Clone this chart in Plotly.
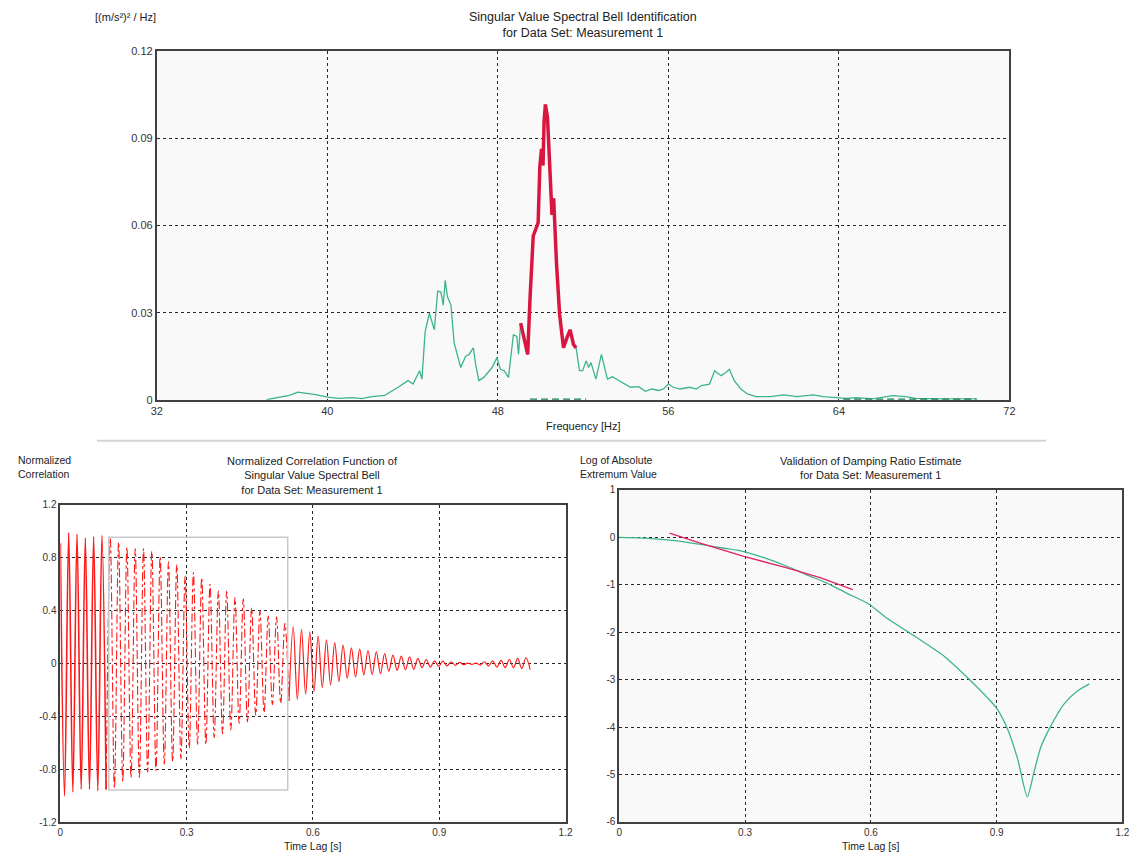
import plotly.graph_objects as go

W, H = 1142, 863

# ---------------- Spectral bell identification (top) ----------------
spec_freq_left = [37.14, 37.76, 38.22, 38.61, 38.99, 39.46, 40.0, 40.54, 41.16, 41.62, 42.09, 42.7,
                  43.32, 43.79, 44.02, 44.33, 44.44, 44.59, 44.79, 45.02, 45.18, 45.33, 45.44, 45.53,
                  45.64, 45.8, 45.95, 46.26, 46.49, 46.65, 46.85, 46.96, 47.11, 47.34, 47.73, 47.96,
                  48.12, 48.3, 48.5, 48.73, 48.89, 48.97]
spec_sv_left = [0.0, 0.0009, 0.0015, 0.0026, 0.0022, 0.0018, 0.0009, 0.0005, 0.0007, 0.0004, 0.0011, 0.0015,
                0.0043, 0.0066, 0.0054, 0.010, 0.0071, 0.0235, 0.0298, 0.0241, 0.0374, 0.0371, 0.0326, 0.0411,
                0.0354, 0.0326, 0.0196, 0.0111, 0.015, 0.0156, 0.0179, 0.0122, 0.0066, 0.0077, 0.0111, 0.0145,
                0.0105, 0.010, 0.0077, 0.0224, 0.0218, 0.0156]

bell_freq = [49.07, 49.2, 49.4, 49.51, 49.59, 49.66, 49.89, 49.97, 50.05, 50.12, 50.17, 50.23,
             50.33, 50.39, 50.47, 50.54, 50.62, 50.75, 50.9, 51.08, 51.24, 51.39, 51.55, 51.67]
bell_sv = [0.0264, 0.0224, 0.0156, 0.0349, 0.0473, 0.0564, 0.0609, 0.0802, 0.0864, 0.0807, 0.096, 0.1017,
           0.0972, 0.0858, 0.070, 0.0637, 0.0694, 0.0473, 0.0292, 0.0179, 0.0213, 0.0241, 0.019, 0.0179]

spec_freq_right = [51.83, 51.98, 52.14, 52.26, 52.37, 52.6, 52.86, 53.14, 53.37, 53.68, 54.22, 54.61,
                   54.92, 55.23, 55.54, 55.77, 56.0, 56.23, 56.54, 57.01, 57.31, 57.55, 57.93, 58.17,
                   58.47, 58.7, 58.86, 59.09, 59.4, 59.71, 60.1, 60.79, 61.41, 62.03, 62.8, 63.26,
                   63.88, 64.35, 64.81, 65.59, 66.51, 67.13, 67.6, 68.68, 70.46]
spec_sv_right = [0.010, 0.010, 0.0134, 0.0111, 0.0128, 0.0071, 0.0156, 0.0071, 0.0079, 0.0066, 0.0043, 0.0045,
                 0.0029, 0.0037, 0.0032, 0.0037, 0.0054, 0.0043, 0.0037, 0.0043, 0.0037, 0.0049, 0.0054, 0.010,
                 0.0083, 0.0094, 0.0105, 0.0066, 0.0037, 0.002, 0.0011, 0.0011, 0.0017, 0.0011, 0.0017, 0.0011,
                 0.0009, 0.0005, 0.0007, 0.0003, 0.0014, 0.0011, 0.0005, 0.0003, 0.0003]

# frequency bands flagged on the zero line
zero_band_a = [49.51, 52.14]
zero_band_b = [64.2, 70.46]

freq_ticks = [32, 40, 48, 56, 64, 72]
sv_ticks = [0, 0.03, 0.06, 0.09, 0.12]
sv_tick_text = ["0", "0.03", "0.06", "0.09", "0.12"]

# ---------------- Normalized correlation function (bottom left) ----------------
corr_half_period = 0.009875  # spacing between successive extrema [s]
corr_peaks = [0.91, 0.99, 0.98, 0.95, 0.96, 0.97, 0.95, 0.92, 0.88, 0.87, 0.87, 0.85, 0.81, 0.77,
              0.75, 0.66, 0.69, 0.65, 0.60, 0.55, 0.55, 0.50, 0.49, 0.42, 0.40, 0.36, 0.355, 0.305,
              0.28, 0.26, 0.24, 0.21, 0.18, 0.16, 0.14, 0.12, 0.11, 0.10, 0.09, 0.077, 0.065, 0.057,
              0.052, 0.04, 0.032, 0.022, 0.02, 0.015, 0.01, 0.005, 0.005, 0.015, 0.022, 0.025, 0.032,
              0.04, 0.045]
corr_troughs = [-1.0, -0.97, -0.95, -0.95, -0.96, -0.95, -0.94, -0.89, -0.86, -0.86, -0.82, -0.81,
                -0.76, -0.74, -0.72, -0.64, -0.61, -0.61, -0.56, -0.53, -0.50, -0.45, -0.44, -0.39,
                -0.37, -0.31, -0.30, -0.28, -0.27, -0.23, -0.21, -0.18, -0.16, -0.134, -0.11, -0.10,
                -0.085, -0.082, -0.075, -0.057, -0.05, -0.045, -0.042, -0.03, -0.025, -0.02, -0.017,
                -0.012, -0.007, -0.005, -0.01, -0.017, -0.025, -0.03, -0.03, -0.037, -0.045]
window_start, window_end, window_level = 0.115, 0.54, 0.955

lag_ticks = [0, 0.3, 0.6, 0.9, 1.2]
lag_tick_text = ["0", "0.3", "0.6", "0.9", "1.2"]
corr_ticks = [-1.2, -0.8, -0.4, 0, 0.4, 0.8, 1.2]
corr_tick_text = ["-1.2", "-0.8", "-0.4", "0", "0.4", "0.8", "1.2"]

# ---------------- Damping ratio validation (bottom right) ----------------
ext_lag = [0, 0.046, 0.10, 0.15, 0.203, 0.25, 0.297, 0.345, 0.40, 0.447, 0.494, 0.541, 0.596, 0.636,
           0.69, 0.777, 0.832, 0.879, 0.90, 0.926, 0.95, 0.973, 0.989, 1.005, 1.029, 1.06, 1.091, 1.121]
ext_log = [0, -0.01, -0.045, -0.09, -0.16, -0.23, -0.30, -0.43, -0.61, -0.79, -0.96, -1.17, -1.41, -1.69,
           -2.0, -2.52, -2.97, -3.39, -3.6, -4.04, -4.67, -5.47, -4.95, -4.43, -3.98, -3.52, -3.25, -3.09]
fit_lag = [0.12, 0.195, 0.297, 0.40, 0.479, 0.557]
fit_log = [0.09, -0.13, -0.40, -0.645, -0.85, -1.10]
log_ticks = [1, 0, -1, -2, -3, -4, -5, -6]
log_tick_text = ["1", "0", "-1", "-2", "-3", "-4", "-5", "-6"]

# ---------------- styling ----------------
FONT = "Liberation Sans, Arial, sans-serif"
GREEN = "#3cb48c"
DARK_GREEN = "#17804f"
CRIMSON = "#d9163f"
RED = "#ff1a1a"
PINK_RED = "#e3245a"
TXT = "#222222"


def dom_x(p0, p1):
    return [p0 / W, p1 / W]


def dom_y(p0, p1):
    return [1 - p1 / H, 1 - p0 / H]


def px(x):
    return x / W


def py(y):
    return 1 - y / H


fig = go.Figure()

# top panel
fig.add_trace(go.Scatter(x=spec_freq_left + bell_freq + spec_freq_right,
                         y=spec_sv_left + bell_sv + spec_sv_right,
                         mode="lines", line=dict(color=GREEN, width=1.3),
                         xaxis="x", yaxis="y", hoverinfo="skip"))
for band in (zero_band_a, zero_band_b):
    fig.add_trace(go.Scatter(x=band, y=[0, 0], mode="lines",
                             line=dict(color=DARK_GREEN, width=2.4, dash="7px,4px"),
                             xaxis="x", yaxis="y", hoverinfo="skip"))
fig.add_trace(go.Scatter(x=bell_freq, y=bell_sv, mode="lines",
                         line=dict(color=CRIMSON, width=3.5),
                         xaxis="x", yaxis="y", hoverinfo="skip"))

# bottom-left panel: interleave extrema of the correlation function
corr_t, corr_v = [], []
for i, (pk, tr) in enumerate(zip(corr_peaks, corr_troughs)):
    corr_t += [2 * i * corr_half_period, (2 * i + 1) * corr_half_period]
    corr_v += [pk, tr]

seg_before = [i for i, t in enumerate(corr_t) if t <= window_start]
seg_window = [i for i, t in enumerate(corr_t) if window_start <= t <= window_end]
seg_after = [i for i, t in enumerate(corr_t) if t >= window_end]
seg_window = [seg_before[-1]] + seg_window + [seg_after[0]]
for idx, dash, width in ((seg_before, "solid", 1.6), (seg_window, "dashdot", 1.1), (seg_after, "solid", 1.2)):
    fig.add_trace(go.Scatter(x=[corr_t[i] for i in idx], y=[corr_v[i] for i in idx],
                             mode="lines", line=dict(color=RED, width=width, dash=dash, shape="spline"),
                             xaxis="x2", yaxis="y2", hoverinfo="skip"))

# bottom-right panel
fig.add_trace(go.Scatter(x=ext_lag, y=ext_log, mode="lines",
                         line=dict(color=GREEN, width=1.3, shape="spline", smoothing=0.6),
                         xaxis="x3", yaxis="y3", hoverinfo="skip"))
fig.add_trace(go.Scatter(x=fit_lag, y=fit_log, mode="lines", line=dict(color=PINK_RED, width=1.3),
                         xaxis="x3", yaxis="y3", hoverinfo="skip"))

axis_common = dict(showgrid=True, gridcolor="#262626", griddash="3px,3px", gridwidth=1,
                   zeroline=False, showline=True, mirror=True, linecolor="#404040", linewidth=1.8,
                   ticks="", tickfont=dict(family=FONT, size=11, color="#333333"), fixedrange=True)
small_ticks = dict(family=FONT, size=10, color="#333333")

fig.update_layout(
    width=W, height=H, margin=dict(l=0, r=0, t=0, b=0),
    paper_bgcolor="white", plot_bgcolor="white", showlegend=False,
    font=dict(family=FONT, color=TXT),
    xaxis=dict(axis_common, domain=dom_x(152.5, 1015), range=[32, 72], anchor="y",
               tickvals=freq_ticks, ticktext=[str(v) for v in freq_ticks]),
    yaxis=dict(axis_common, domain=dom_y(46, 399.3), range=[0, 0.12], anchor="x",
               tickvals=sv_ticks, ticktext=sv_tick_text),
    xaxis2=dict(axis_common, domain=dom_x(55, 566), range=[0, 1.2], anchor="y2",
                tickvals=lag_ticks, ticktext=lag_tick_text, tickfont=small_ticks),
    yaxis2=dict(axis_common, domain=dom_y(506, 828), range=[-1.2, 1.2], anchor="x2",
                tickvals=corr_ticks, ticktext=corr_tick_text, tickfont=small_ticks),
    xaxis3=dict(axis_common, domain=dom_x(620.3, 1129.3), range=[0, 1.2], anchor="y3",
                tickvals=lag_ticks, ticktext=lag_tick_text, tickfont=small_ticks),
    yaxis3=dict(axis_common, domain=dom_y(490.7, 827.5), range=[-6, 1], anchor="x3",
                tickvals=log_ticks, ticktext=log_tick_text, tickfont=small_ticks),
)

# faint hatched-looking backgrounds on the top and right plot areas
for xr, yr in (("x domain", "y domain"), ("x3 domain", "y3 domain")):
    fig.add_shape(type="rect", xref=xr, yref=yr, x0=0, x1=1, y0=0, y1=1,
                  fillcolor="#f9f9f9", line=dict(width=0), layer="below")

# analysis window on the correlation function
fig.add_shape(type="rect", xref="x2", yref="y2", x0=window_start, x1=window_end,
              y0=-window_level, y1=window_level, line=dict(color="#c8c8c8", width=1.5), layer="above")

# panel separator
fig.add_shape(type="line", xref="paper", yref="paper", x0=px(92), x1=px(1052), y0=py(441), y1=py(441),
              line=dict(color="#d4d4d4", width=2))


def note(text, x, y, size, xanchor="center", align="center"):
    fig.add_annotation(text=text, x=px(x), y=py(y), xref="paper", yref="paper", showarrow=False,
                       xanchor=xanchor, yanchor="middle", align=align,
                       font=dict(family=FONT, size=size, color=TXT))


note("Singular Value Spectral Bell Identification<br>for Data Set: Measurement 1", 583.75, 19, 12.5)
note("[(m/s²)² / Hz]", 88, 11, 11, xanchor="left", align="left")
note("Frequency [Hz]", 583.75, 426, 11)

note("Normalized Correlation Function of<br>Singular Value Spectral Bell<br>for Data Set: Measurement 1",
     310.5, 476, 11)
note("Normalized<br>Correlation", 10, 468, 10.5, xanchor="left", align="left")
note("Time Lag [s]", 310.5, 852, 10.5)

note("Validation of Damping Ratio Estimate<br>for Data Set: Measurement 1", 874.8, 468.5, 11)
note("Log of Absolute<br>Extremum Value", 579, 468, 10.5, xanchor="left", align="left")
note("Time Lag [s]", 874.8, 852, 10.5)

fig.write_html("out.html")
